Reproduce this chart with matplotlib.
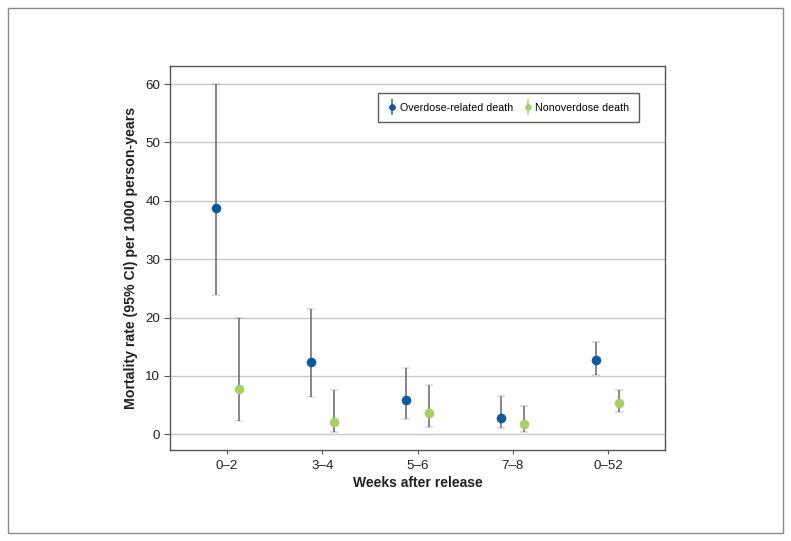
import matplotlib
matplotlib.use("Agg")
import matplotlib.pyplot as plt
import numpy as np
from matplotlib.patches import Rectangle
from matplotlib.lines import Line2D
from matplotlib.legend_handler import HandlerTuple

plt.rcParams['font.family'] = ['Liberation Sans', 'DejaVu Sans']

categories = ["0–2", "3–4", "5–6", "7–8", "0–52"]
overdose = [38.8, 12.3, 5.8, 2.8, 12.7]
overdose_lo = [23.8, 6.4, 2.6, 1.0, 10.2]
overdose_hi = [60.0, 21.5, 11.4, 6.6, 15.8]
nonoverdose = [7.8, 2.1, 3.6, 1.7, 5.4]
nonoverdose_lo = [2.2, 0.3, 1.2, 0.3, 3.8]
nonoverdose_hi = [20.0, 7.5, 8.4, 4.9, 7.5]
yticks = [0, 10, 20, 30, 40, 50, 60]

blue = "#0a5a9c"
green = "#a9cf62"

fig = plt.figure(figsize=(7.91, 5.41), dpi=100)
fig.patches.append(Rectangle((8/791, 8/541), 775/791, 525/541, transform=fig.transFigure,
                             fill=False, edgecolor="#8a8a8a", linewidth=1.0))
ax = fig.add_axes([170/791, (541-450)/541, 495/791, 384/541])

x = np.arange(len(categories))
off = 0.12
handles = []
labels = []
for vals, lo, hi, col, dx, lab in [(overdose, overdose_lo, overdose_hi, blue, -off, "Overdose-related death"),
                                   (nonoverdose, nonoverdose_lo, nonoverdose_hi, green, off, "Nonoverdose death")]:
    v = np.array(vals); l = np.array(lo); h = np.array(hi)
    cont = ax.errorbar(x + dx, v, yerr=[v - l, h - v], fmt='o', color=col, ms=6.6, mew=0.3,
                       ecolor="#666666", elinewidth=1.1, capsize=3.0, capthick=1.2, zorder=3)
    for cl in cont[1]:
        cl.set_color("#333333")
    handles.append((Line2D([], [], marker='|', ms=12, mew=1.2, color=col, alpha=0.8, linestyle='none'),
                    Line2D([], [], marker='o', ms=4.8, mew=0, color=col, linestyle='none')))
    labels.append(lab)

ax.set_xlim(-0.6, 4.6)
ax.set_ylim(-2.7, 63.1)
ax.set_yticks(yticks)
ax.set_xticks(x)
ax.set_xticklabels(categories)
ax.tick_params(axis='x', length=3, labelsize=9.6, pad=4, colors="#555555", labelcolor="#222222")
ax.tick_params(axis='y', length=4, labelsize=9.6, pad=3, colors="#555555", labelcolor="#222222")
ax.grid(axis='y', color="#c8c8c8", linewidth=1.0)
ax.set_axisbelow(True)
for s in ax.spines.values():
    s.set_color("#555555")
    s.set_linewidth(1.0)
ax.set_xlabel("Weeks after release", fontsize=10, fontweight='bold', labelpad=3, color="#222222")
ax.set_ylabel("Mortality rate (95% CI) per 1000 person-years", fontsize=10.2, fontweight='bold',
              labelpad=5, color="#222222")

leg = ax.legend(handles, labels, handler_map={tuple: HandlerTuple(ndivide=1)},
                loc='upper right', bbox_to_anchor=((639-170)/495, (450-93)/384), borderaxespad=0,
                ncol=2, fontsize=7.7, frameon=True, fancybox=False, edgecolor="#333333",
                handletextpad=0.3, columnspacing=1.0, borderpad=0.9, handlelength=0.8)
leg.get_frame().set_linewidth(1.0)

fig.savefig("out.png", dpi=100)
